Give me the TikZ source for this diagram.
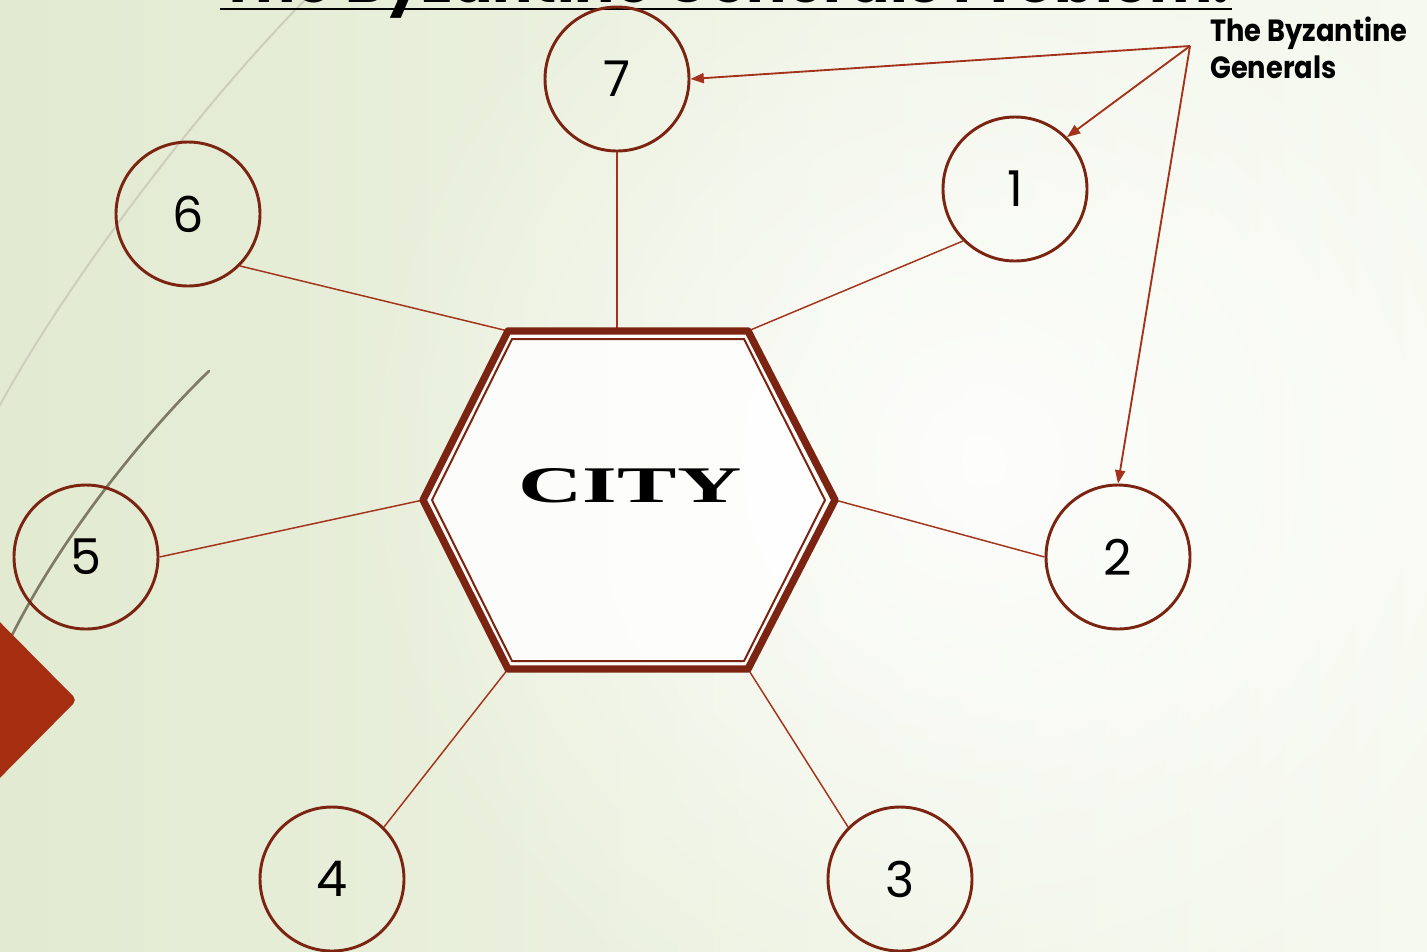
\documentclass[tikz,border=0pt]{standalone}
\usepackage{graphicx}
\usepackage{fontspec}
\setmainfont{Poppins}
\newfontfamily\cityfont{Liberation Serif}
\usetikzlibrary{arrows.meta,fadings}

\definecolor{bgleft}{HTML}{E2EAD1}
\definecolor{bgright}{HTML}{F6F9EF}
\definecolor{rim}{HTML}{7B2411}
\definecolor{spoke}{HTML}{A3331B}
\definecolor{accent}{HTML}{A52E10}
\definecolor{swoosh}{HTML}{7E7A64}
\definecolor{swooshlight}{HTML}{CDCFBC}

\tikzfading[name=glow, inner color=transparent!0, outer color=transparent!100]

\begin{document}
\begin{tikzpicture}[x=0.75pt,y=-0.75pt,
  general/.style={circle, draw=rim, line width=2.2pt, minimum size=108pt,
    inner sep=0pt, font=\fontsize{37}{40}\selectfont},
  spokeline/.style={draw=spoke, line width=1.1pt},
  pointer/.style={draw=spoke, line width=1.4pt,
    -{Triangle[length=10pt,width=7.5pt]}}]

\useasboundingbox (0,0) rectangle (1427,951);
\clip (0,0) rectangle (1427,951);

% background wash
\shade[left color=bgleft, right color=bgright] (0,0) rectangle (1427,951);
\fill[white, opacity=0.9, path fading=glow] (980,460) circle (640);

% decorative swooshes and corner tab
\draw[swooshlight, line width=1.5pt] (310,-5) .. controls (200,105) and (60,290) .. (-8,420);
\draw[swoosh, line width=2pt, line cap=round] (209,371) .. controls (150,428) and (55,540) .. (0,660);
\fill[accent, rounded corners=4pt] (-20,602) -- (77,700) -- (-20,798) -- cycle;

% heading (runs off the top edge)
\node[anchor=base west, inner sep=0pt] (title) at (220,2)
  {\resizebox{757pt}{!}{\bfseries The Byzantine Generals Problem:}};
\draw[line width=2.2pt] (220,9) -- (1232,9);

% generals
\node[general] (n7) at (617,79)  {7};
\node[general] (n6) at (188,214) {6};
\node[general] (n1) at (1015,189) {1};
\node[general] (n5) at (86,557)  {5};
\node[general] (n2) at (1118,557) {2};
\node[general] (n4) at (332,879) {4};
\node[general] (n3) at (900,879) {3};

% city corners
\coordinate (hT)  at (617,331);
\coordinate (hTL) at (508,331);
\coordinate (hTR) at (748,331);
\coordinate (hR)  at (835,500);
\coordinate (hBR) at (748,669);
\coordinate (hBL) at (508,669);
\coordinate (hL)  at (423,500);

% spokes from the generals to the city
\draw[spokeline] (n7.south) -- (hT);
\draw[spokeline] (n6.-45)   -- (hTL);
\draw[spokeline] (n1.-135)  -- (hTR);
\draw[spokeline] (n5.east)  -- (hL);
\draw[spokeline] (n2.west)  -- (hR);
\draw[spokeline] (n4.45)    -- (hBL);
\draw[spokeline] (n3.135)   -- (hBR);

% the city
\filldraw[fill=white, fill opacity=0.85, draw=rim, line width=5.5pt, line join=round]
  (hTL) -- (hTR) -- (hR) -- (hBR) -- (hBL) -- (hL) -- cycle;
\draw[rim, line width=1.5pt, line join=round]
  (512,339) -- (744,339) -- (825,500) -- (744,661) -- (512,661) -- (432,500) -- cycle;
\node (city) at (630,486) {\resizebox{167pt}{25.5pt}{\cityfont\bfseries CITY}};

% caption and pointers
\node[anchor=north west, inner sep=0pt,
  font=\bfseries\fontsize{23}{28.5}\selectfont] (label) at (1210,15)
  {\scalebox{0.89}[1]{\begin{tabular}{@{}l@{}}The Byzantine\\[-1pt]Generals\end{tabular}}};
\coordinate (src) at (1190,46);
\draw[pointer] (src) -- (n7.east);
\draw[pointer] (src) -- (n1.north east);
\draw[pointer] (src) -- (n2.north);
\end{tikzpicture}
\end{document}
